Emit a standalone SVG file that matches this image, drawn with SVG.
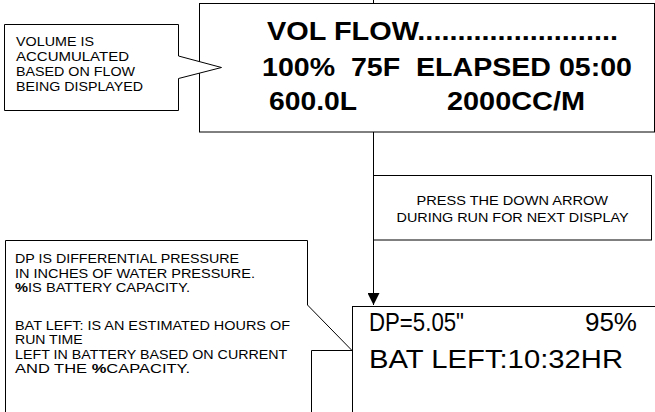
<svg xmlns="http://www.w3.org/2000/svg" width="655" height="412" viewBox="0 0 655 412">
<defs>
<style>
.box{fill:#fff;stroke:#000;stroke-width:1}
.ln{fill:none;stroke:#000;stroke-width:1}
.t{font-family:"Liberation Sans",Arial,sans-serif;fill:#000}
.s{font-size:13px}
.big{font-size:25px;font-weight:bold}
.lcd{font-size:26px}
</style>
<marker id="arr" viewBox="0 0 10 10" refX="10" refY="5" markerWidth="12" markerHeight="12" markerUnits="userSpaceOnUse" orient="auto">
<path d="M0,0 L10,5 L0,10 Z" fill="#000"/>
</marker>
</defs>
<rect width="655" height="412" fill="#fff"/>
<g id="connectors">
<line class="ln" x1="373.5" y1="0" x2="373.5" y2="3"/>
<line class="ln" x1="373.5" y1="132" x2="373.5" y2="305" marker-end="url(#arr)"/>
</g>
<g id="display1">
<rect class="box" x="199.5" y="3.5" width="455" height="128.5"/>
<text class="t big" x="267" y="40" textLength="351" lengthAdjust="spacingAndGlyphs">VOL FLOW.........................</text>
<text class="t big" x="262" y="76" textLength="370" lengthAdjust="spacingAndGlyphs" xml:space="preserve">100%  75F  ELAPSED 05:00</text>
<text class="t big" x="269" y="110" textLength="88" lengthAdjust="spacingAndGlyphs">600.0L</text>
<text class="t big" x="447" y="110" textLength="138" lengthAdjust="spacingAndGlyphs">2000CC/M</text>
</g>
<g id="callout1">
<path class="box" d="M4.5,24.5 H178.5 V56 L221.5,67.5 L178.5,78.5 V110.5 H4.5 Z"/>
<text class="t s" x="16" y="46" textLength="78" lengthAdjust="spacingAndGlyphs">VOLUME IS</text>
<text class="t s" x="16" y="61" textLength="113" lengthAdjust="spacingAndGlyphs">ACCUMULATED</text>
<text class="t s" x="16" y="76" textLength="119" lengthAdjust="spacingAndGlyphs">BASED ON FLOW</text>
<text class="t s" x="16" y="91" textLength="127" lengthAdjust="spacingAndGlyphs">BEING DISPLAYED</text>
</g>
<g id="note">
<rect class="box" x="373.5" y="175.5" width="278" height="64.5"/>
<text class="t s" x="416.5" y="205" textLength="191.5" lengthAdjust="spacingAndGlyphs">PRESS THE DOWN ARROW</text>
<text class="t s" x="396.5" y="221.5" textLength="232" lengthAdjust="spacingAndGlyphs">DURING RUN FOR NEXT DISPLAY</text>
</g>
<g id="callout2">
<path class="box" d="M5.5,412 V240.5 H307.5 V305 L352,350.5 H311.5 V412"/>
<text class="t s" x="15" y="263.3" textLength="224" lengthAdjust="spacingAndGlyphs">DP IS DIFFERENTIAL PRESSURE</text>
<text class="t s" x="15" y="277.7" textLength="240" lengthAdjust="spacingAndGlyphs">IN INCHES OF WATER PRESSURE.</text>
<text class="t s" x="15" y="291.7" textLength="175" lengthAdjust="spacingAndGlyphs"><tspan font-weight="bold">%</tspan>IS BATTERY CAPACITY.</text>
<text class="t s" x="15" y="330" textLength="275" lengthAdjust="spacingAndGlyphs">BAT LEFT: IS AN ESTIMATED HOURS OF</text>
<text class="t s" x="15" y="344.4" textLength="67.7" lengthAdjust="spacingAndGlyphs">RUN TIME</text>
<text class="t s" x="15" y="358.5" textLength="272.3" lengthAdjust="spacingAndGlyphs">LEFT IN BATTERY BASED ON CURRENT</text>
<text class="t s" x="15" y="372.7" textLength="175" lengthAdjust="spacingAndGlyphs">AND THE <tspan font-weight="bold">%</tspan>CAPACITY.</text>
</g>
<g id="display2">
<rect class="box" x="352.5" y="306.5" width="310" height="120"/>
<text class="t lcd" x="369" y="331" textLength="95" lengthAdjust="spacingAndGlyphs">DP=5.05"</text>
<text class="t lcd" x="637" y="331" text-anchor="end">95%</text>
<text class="t lcd" x="369" y="368" textLength="254" lengthAdjust="spacingAndGlyphs">BAT LEFT:10:32HR</text>
</g>
</svg>
